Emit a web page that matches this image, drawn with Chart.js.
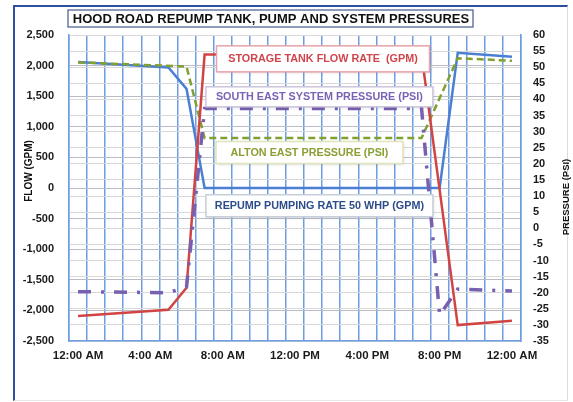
<!DOCTYPE html>
<html>
<head>
<meta charset="utf-8">
<script src="https://cdn.jsdelivr.net/npm/chart.js@4.4.1/dist/chart.umd.min.js"></script>
<style>
  body { margin: 0; background: #fff; }
  #frame {
    position: absolute; left: 13px; top: 5px; width: 552px; height: 393px;
    border-left: 2px solid #2d4f9e; border-top: 2px solid #2d4f9e;
    border-right: 1px solid #dcdcdc; border-bottom: 1px solid #e8e8e8;
  }
  #c { position: absolute; left: 0; top: 0; }
</style>
</head>
<body>
<div id="frame"></div>
<canvas id="c" width="573" height="402"></canvas>
<script>
// hours of day (0 = midnight)
const tickLabels = ["12:00 AM", "4:00 AM", "8:00 AM", "12:00 PM", "4:00 PM", "8:00 PM", "12:00 AM"];

const tankHours = [0, 5, 6, 7, 19, 21, 24];
const tankFlow = [-2090, -1990, -1630, 2180, 2180, -2240, -2170];

const pumpHours = [0, 5, 6, 7, 20, 21, 24];
const pumpFlow = [2060, 1970, 1620, 0, 0, 2210, 2145];

const altonHours = [0, 6, 7, 19, 21, 24];
const altonPsi = [51.5, 50.2, 28, 28, 52.8, 52];

const southHours = [0, 5, 6, 7, 19, 20, 21, 24];
const southPsi = [-19.7, -20, -18.2, 37.2, 37.2, -26.9, -18.9, -19.5];

function pts(xs, ys) {
    return xs.map((x, i) => ({x: x, y: ys[i]}));
}

const FONT = "'Liberation Sans', Arial, sans-serif";

// boxed series names inside the plot (placed by hour / flow value)
const boxes = [
    {text: "STORAGE TANK FLOW RATE  (GPM)", hour: 13.55, flow: 2110, w: 213, h: 26, color: "#d0454c", border: "#e8a3ab"},
    {text: "SOUTH EAST SYSTEM PRESSURE (PSI)", hour: 13.35, flow: 1490, w: 227, h: 20, color: "#7a62b4", border: "#cdc4dc"},
    {text: "ALTON EAST PRESSURE (PSI)", hour: 12.8, flow: 580, w: 187, h: 22, color: "#8aa035", border: "#e0e3b8"},
    {text: "REPUMP PUMPING RATE 50 WHP (GPM)", hour: 13.35, flow: -290, w: 227, h: 22, color: "#2d4c8a", border: "#c6cedc"}
];

const boxPlugin = {
    id: "boxes",
    afterDatasetsDraw(chart) {
        const c = chart.ctx;
        const sx = chart.scales.x, sy = chart.scales.y;
        c.save();
        boxes.forEach(b => {
            const cx = sx.getPixelForValue(b.hour);
            const cy = sy.getPixelForValue(b.flow);
            const x0 = cx - b.w / 2, y0 = cy - b.h / 2;
            c.shadowColor = "rgba(0,0,0,0.18)";
            c.shadowBlur = 3;
            c.shadowOffsetX = 1;
            c.shadowOffsetY = 1;
            c.fillStyle = "#fff";
            c.fillRect(x0, y0, b.w, b.h);
            c.shadowColor = "transparent";
            c.strokeStyle = b.border;
            c.lineWidth = 1.5;
            c.strokeRect(x0, y0, b.w, b.h);
            c.fillStyle = b.color;
            c.font = "bold 10.8px " + FONT;
            c.textAlign = "center";
            c.textBaseline = "middle";
            c.fillText(b.text, cx, cy + 0.5);
        });
        c.restore();
    },
    afterDraw(chart) {
        const c = chart.ctx;
        c.save();
        // title box
        c.fillStyle = "#fff";
        c.fillRect(68, 10, 405, 17);
        c.strokeStyle = "#44598a";
        c.lineWidth = 1.2;
        c.strokeRect(68, 10, 405, 17);
        c.fillStyle = "#111";
        c.font = "bold 13px " + FONT;
        c.textAlign = "center";
        c.textBaseline = "middle";
        c.fillText("HOOD ROAD REPUMP TANK, PUMP AND SYSTEM PRESSURES", 271, 19);
        // axis titles
        c.font = "bold 10px " + FONT;
        c.translate(29, 171);
        c.rotate(-Math.PI / 2);
        c.fillText("FLOW (GPM)", 0, 0);
        c.setTransform(1, 0, 0, 1, 0, 0);
        c.font = "bold 9.5px " + FONT;
        c.translate(566, 197);
        c.rotate(-Math.PI / 2);
        c.fillText("PRESSURE (PSI)", 0, 0);
        c.restore();
    }
};

const ctx = document.getElementById("c").getContext("2d");
const chart = new Chart(ctx, {
    type: "line",
    data: {
        datasets: [
            {
                label: "SOUTH EAST SYSTEM PRESSURE (PSI)",
                data: pts(southHours, southPsi),
                yAxisID: "y2",
                borderColor: "#7860b0",
                borderWidth: 3.5,
                borderDash: [13, 10, 3, 10],
                pointRadius: 0,
                tension: 0
            },
            {
                label: "STORAGE TANK FLOW RATE (GPM)",
                data: pts(tankHours, tankFlow),
                yAxisID: "y",
                borderColor: "#d24444",
                borderWidth: 2.5,
                pointRadius: 0,
                tension: 0
            },
            {
                label: "ALTON EAST PRESSURE (PSI)",
                data: pts(altonHours, altonPsi),
                yAxisID: "y2",
                borderColor: "#80a030",
                borderWidth: 2.5,
                borderDash: [7, 4],
                pointRadius: 0,
                tension: 0
            },
            {
                label: "REPUMP PUMPING RATE 50 WHP (GPM)",
                data: pts(pumpHours, pumpFlow),
                yAxisID: "y",
                borderColor: "#4a7fd4",
                borderWidth: 2.5,
                pointRadius: 0,
                tension: 0
            }
        ]
    },
    options: {
        responsive: false,
        animation: false,
        layout: {padding: {top: 35, left: 0, right: 0, bottom: 0}},
        plugins: {
            legend: {display: false},
            title: {display: false},
            tooltip: {enabled: false}
        },
        scales: {
            x: {
                type: "linear",
                min: -0.5,
                max: 24.5,
                afterBuildTicks: (s) => {
                    let t = [];
                    for (let v = -0.5; v <= 24.5; v += 0.5) t.push({value: v});
                    s.ticks = t;
                },
                afterFit: (s) => { s.height = 61; },
                grid: {
                    drawTicks: false,
                    lineWidth: 1.5,
                    color: (c) => (c.tick && c.tick.value % 1 !== 0) ? "#6d9de2" : "rgba(0,0,0,0)"
                },
                border: {color: "#6d9de2", width: 1.5},
                ticks: {
                    autoSkip: false,
                    maxRotation: 0,
                    padding: 8,
                    color: "#1a1a1a",
                    font: {family: FONT, size: 11.5, weight: "bold"},
                    callback: (v) => (v % 4 === 0) ? tickLabels[v / 4] : ""
                }
            },
            y: {
                position: "left",
                min: -2500,
                max: 2500,
                afterFit: (s) => { s.width = 69; },
                grid: {drawTicks: false, color: "#b9bdc8", lineWidth: 1},
                border: {color: "#6d9de2", width: 1.5},
                ticks: {
                    stepSize: 500,
                    autoSkip: false,
                    padding: 15,
                    color: "#1a1a1a",
                    font: {family: FONT, size: 11, weight: "bold"},
                    callback: (v) => v.toLocaleString("en-US")
                }
            },
            y2: {
                position: "right",
                min: -35,
                max: 60,
                afterFit: (s) => { s.width = 52; },
                grid: {drawTicks: false, color: "#d8d8d8", lineWidth: 1},
                border: {color: "#6d9de2", width: 1.5},
                ticks: {
                    stepSize: 5,
                    autoSkip: false,
                    padding: 12,
                    color: "#1a1a1a",
                    font: {family: FONT, size: 11, weight: "bold"}
                }
            }
        }
    },
    plugins: [boxPlugin]
});
</script>
</body>
</html>
